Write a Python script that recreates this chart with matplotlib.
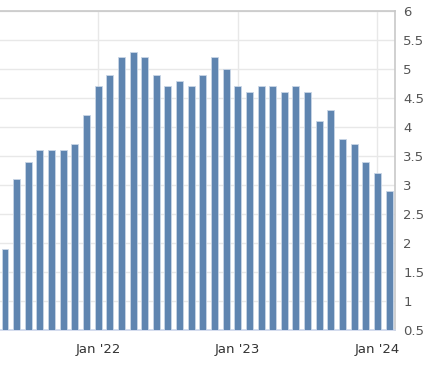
import matplotlib
matplotlib.use("Agg")
import matplotlib.pyplot as plt

# monthly values, May 2021 .. Feb 2024
months = ["May '21", "Jun '21", "Jul '21", "Aug '21", "Sep '21", "Oct '21", "Nov '21", "Dec '21",
          "Jan '22", "Feb '22", "Mar '22", "Apr '22", "May '22", "Jun '22", "Jul '22", "Aug '22",
          "Sep '22", "Oct '22", "Nov '22", "Dec '22",
          "Jan '23", "Feb '23", "Mar '23", "Apr '23", "May '23", "Jun '23", "Jul '23", "Aug '23",
          "Sep '23", "Oct '23", "Nov '23", "Dec '23",
          "Jan '24", "Feb '24"]
values = [1.9, 3.1, 3.4, 3.6, 3.6, 3.6, 3.7, 4.2,
          4.7, 4.9, 5.2, 5.3, 5.2, 4.9, 4.7, 4.8,
          4.7, 4.9, 5.2, 5.0,
          4.7, 4.6, 4.7, 4.7, 4.6, 4.7, 4.6, 4.1,
          4.3, 3.8, 3.7, 3.4,
          3.2, 2.9]
tick_labels = ["Jan '22", "Jan '23", "Jan '24"]
y_ticks = [0.5, 1, 1.5, 2, 2.5, 3, 3.5, 4, 4.5, 5, 5.5, 6]

fig = plt.figure(figsize=(4.25, 3.66), dpi=100)
ax = fig.add_axes([0, 0.098, 395 / 425, 0.872])

x = list(range(len(values)))
ax.bar(x, values, width=0.6, color="#5f85b0", edgecolor="#c9d6e6", linewidth=0.6,
       bottom=0, zorder=3)

ax.set_xlim(-0.43, len(values) - 0.49)
ax.set_ylim(0.5, 6)

ax.yaxis.tick_right()
ax.set_yticks(y_ticks)
ax.set_yticklabels([f"{t:g}" for t in y_ticks])
tick_pos = [months.index(t) for t in tick_labels]
ax.set_xticks(tick_pos)
ax.set_xticklabels(tick_labels)
ax.tick_params(axis="both", length=0, labelsize=9.5, colors="#333333")
ax.tick_params(axis="y", pad=6, colors="#555555")
ax.tick_params(axis="x", pad=9)

ax.grid(True, color="#e8e8e8", linewidth=1, zorder=0)

for s in ["left"]:
    ax.spines[s].set_visible(False)
ax.spines["top"].set_color("#c8c8c8")
ax.spines["right"].set_color("#c8c8c8")
ax.spines["bottom"].set_color("#ccd6eb")
for s in ax.spines.values():
    s.set_linewidth(1.2)

plt.savefig("out.png", dpi=100)
